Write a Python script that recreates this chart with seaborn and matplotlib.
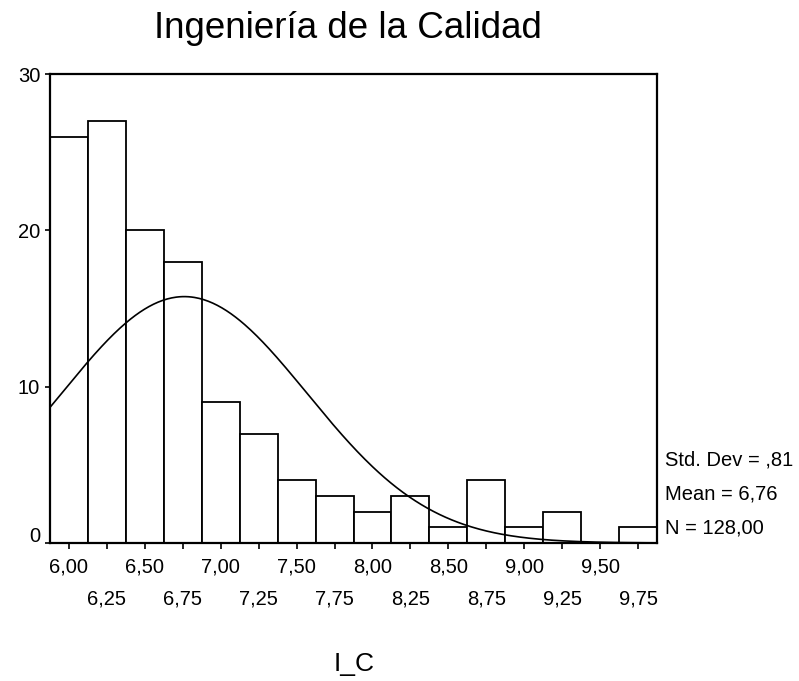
import numpy as np
import pandas as pd
import matplotlib
matplotlib.use("Agg")
import matplotlib.pyplot as plt
import matplotlib.transforms as mtransforms
import seaborn as sns

# Data
bin_centers = [6.00, 6.25, 6.50, 6.75, 7.00, 7.25, 7.50, 7.75,
               8.00, 8.25, 8.50, 8.75, 9.00, 9.25, 9.50, 9.75]
counts = [26, 27, 20, 18, 9, 7, 4, 3, 2, 3, 1, 4, 1, 2, 0, 1]
bin_width = 0.25
mean_val = 6.76
std_val = 0.81
n_val = 128

major_ticks = [6.00, 6.50, 7.00, 7.50, 8.00, 8.50, 9.00, 9.50]
major_labels = ["6,00", "6,50", "7,00", "7,50", "8,00", "8,50", "9,00", "9,50"]
minor_ticks = [6.25, 6.75, 7.25, 7.75, 8.25, 8.75, 9.25, 9.75]
minor_labels = ["6,25", "6,75", "7,25", "7,75", "8,25", "8,75", "9,25", "9,75"]
y_ticks = [0, 10, 20, 30]
y_labels = ["0", "10", "20", "30"]

title = "Ingeniería de la Calidad"
xlabel = "I_C"
stats_lines = ["Std. Dev = ,81", "Mean = 6,76", "N = 128,00"]

sns.set_style("white")
plt.rcParams["font.family"] = ["Liberation Sans", "DejaVu Sans"]
plt.rcParams["text.color"] = "black"
plt.rcParams["xtick.color"] = "black"
plt.rcParams["ytick.color"] = "black"
plt.rcParams["axes.labelcolor"] = "black"

fig = plt.figure(figsize=(7.99, 6.81), dpi=100)
ax = fig.add_axes([50 / 799, 1 - 543 / 681, 607 / 799, 469 / 681])

df = pd.DataFrame({"x": bin_centers, "w": counts})
lo = bin_centers[0] - bin_width / 2
hi = bin_centers[-1] + bin_width / 2
sns.histplot(data=df, x="x", weights="w", binwidth=bin_width, binrange=(lo, hi), ax=ax,
             color="white", edgecolor="black", linewidth=1.3, alpha=1)

xs = np.linspace(lo, hi, 400)
ys = n_val * bin_width * np.exp(-0.5 * ((xs - mean_val) / std_val) ** 2) / (std_val * np.sqrt(2 * np.pi))
sns.lineplot(x=xs, y=ys, ax=ax, color="black", linewidth=1.2)

ax.set_xlim(lo, hi)
ax.set_ylim(0, 30)
ax.set_xticks(major_ticks)
ax.set_xticklabels(major_labels)
ax.set_xticks(minor_ticks, minor=True)
ax.set_xticklabels(minor_labels, minor=True)
ax.set_yticks(y_ticks)
ax.set_yticklabels(y_labels)
ax.tick_params(axis="x", which="both", direction="out", length=4.3, width=1.2,
               color="black", labelcolor="black", labelsize=14.5, bottom=True)
ax.tick_params(axis="x", which="major", pad=6)
ax.tick_params(axis="x", which="minor", pad=29.5)
ax.tick_params(axis="y", direction="out", length=3.6, width=1.2, color="black",
               labelcolor="black", labelsize=14.5, pad=3.5, left=True)
for s in ax.spines.values():
    s.set_visible(True)
    s.set_color("black")
    s.set_linewidth(1.6)
ax.set_xlabel("")
ax.set_ylabel("")
ax.grid(False)

# the "0" label sits slightly above its tick in the reference
zero_lbl = ax.get_yticklabels()[0]
zero_lbl.set_transform(zero_lbl.get_transform() +
                       mtransforms.ScaledTranslation(0, 6 / 72, fig.dpi_scale_trans))

fig.text(348 / 799, 1 - 29 / 681, title, ha="center", va="center", fontsize=26.5, color="black")
fig.text(354 / 799, 1 - 664 / 681, xlabel, ha="center", va="center", fontsize=19, color="black")
for i, line in enumerate(stats_lines):
    fig.text(665 / 799, 1 - (460 + 34 * i) / 681, line, ha="left", va="center",
             fontsize=14.5, color="black")

fig.savefig("out.png", dpi=100, facecolor="white")
